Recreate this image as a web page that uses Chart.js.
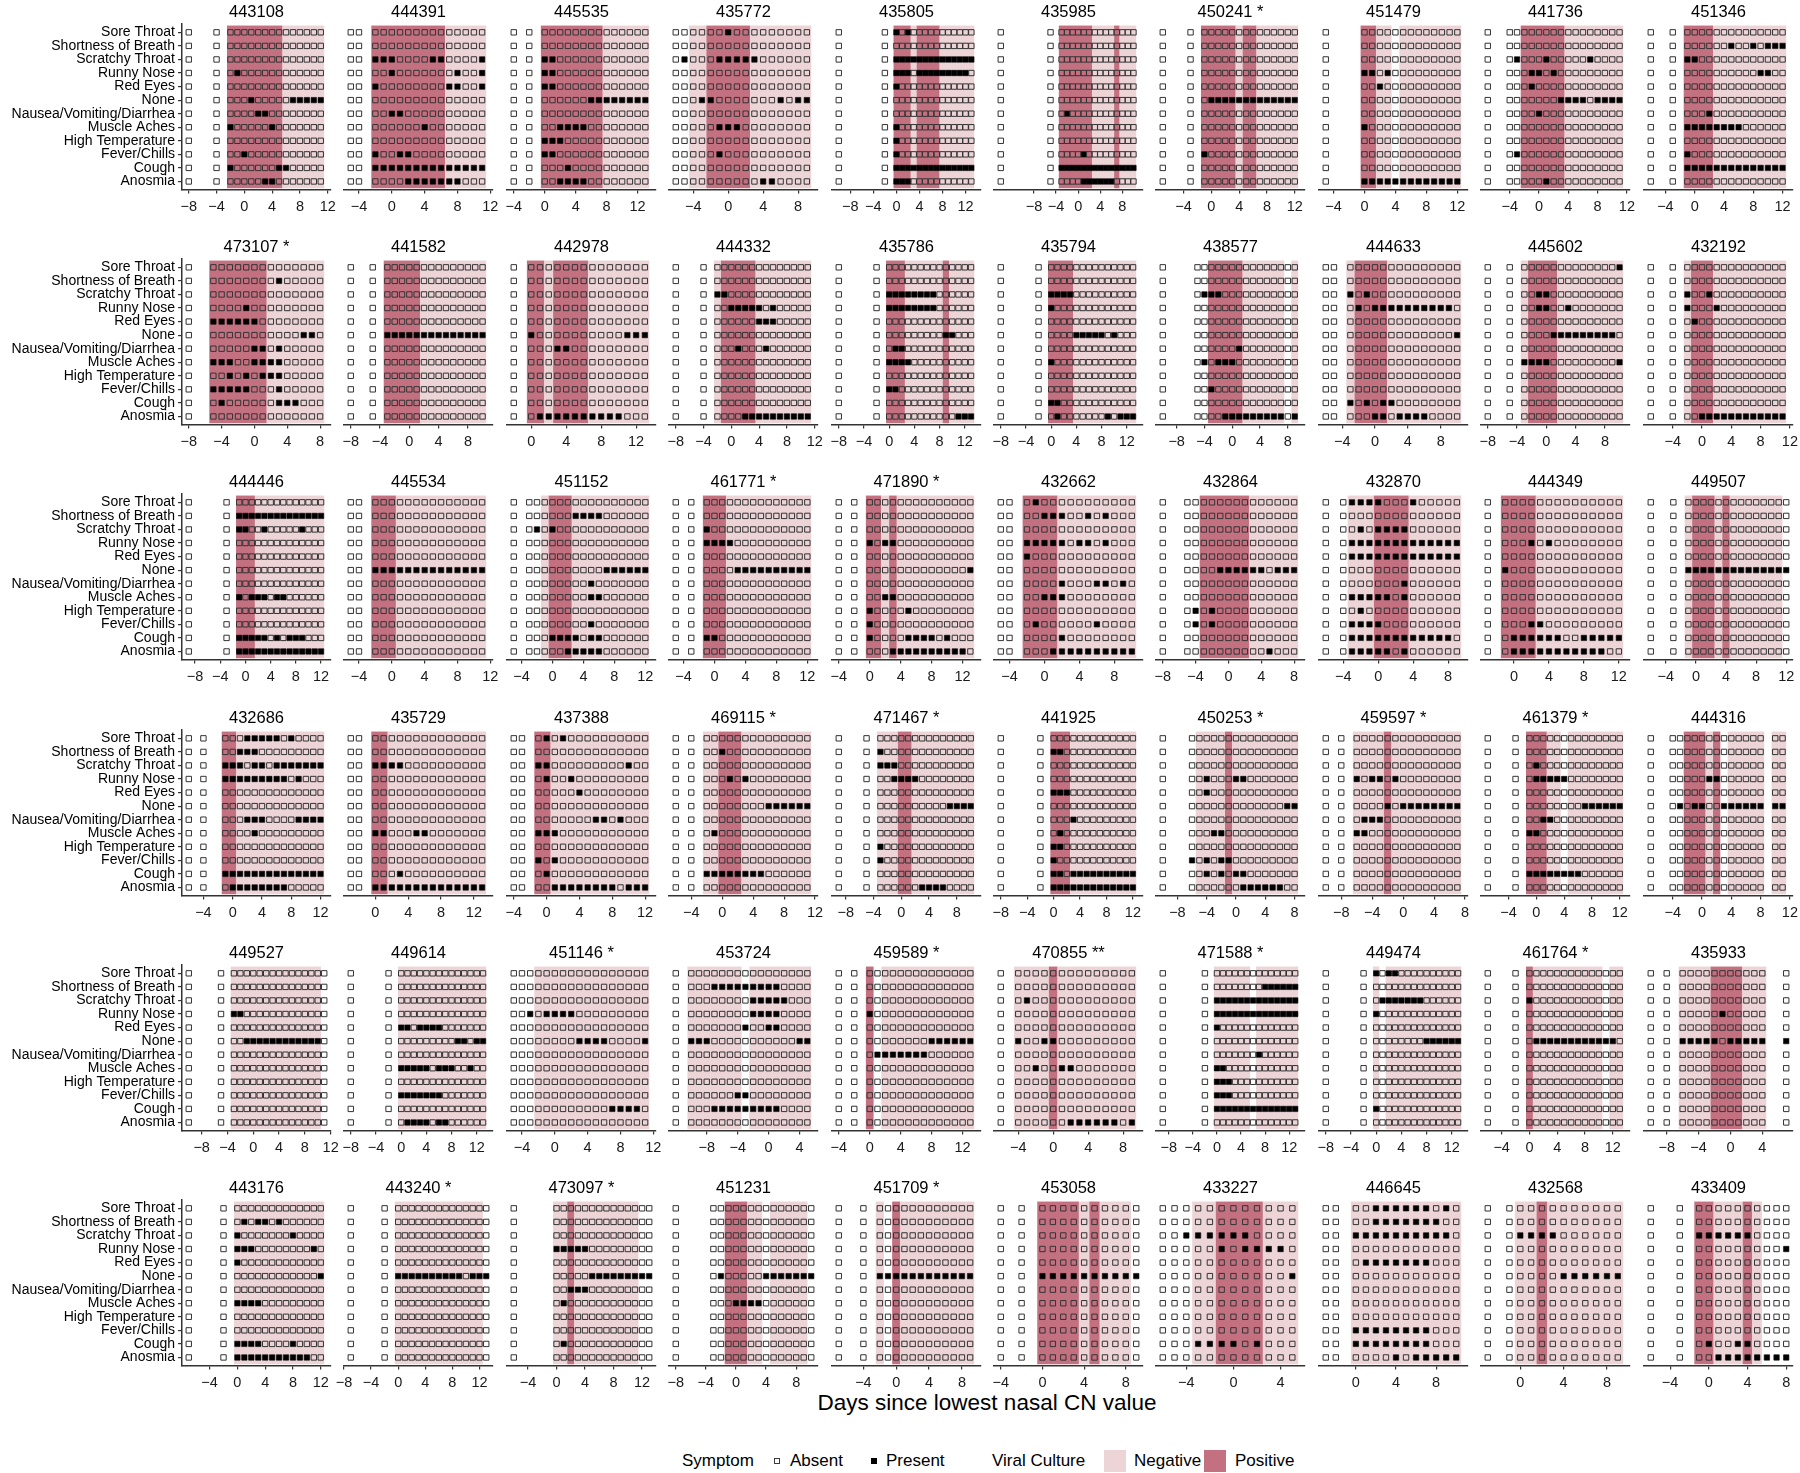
<!DOCTYPE html>
<html>
<head>
<meta charset="utf-8">
<script src="https://cdn.jsdelivr.net/npm/chart.js@4.4.0/dist/chart.umd.min.js"></script>
<style>
  body { margin: 0; width: 1800px; height: 1473px; background: #fff; position: relative; overflow: hidden;
         font-family: "Liberation Sans", Arial, Helvetica, sans-serif; color: #000; }
  canvas { position: absolute; }
  .txt { position: absolute; white-space: nowrap; }
  #xtitle { left: 587px; width: 800px; top: 1389px; text-align: center; font-size: 22.5px; line-height: 28px; }
  .leg { top: 1450px; font-size: 17px; line-height: 22px; }
  .key { position: absolute; box-sizing: border-box; }
</style>
</head>
<body>
<div class="txt" id="xtitle">Days since lowest nasal CN value</div>
<div class="txt leg" style="left:682px">Symptom</div>
<div class="key" style="left:774px;top:1458px;width:6px;height:6px;border:1px solid #3d3d3d"></div>
<div class="txt leg" style="left:790px">Absent</div>
<div class="key" style="left:871px;top:1458px;width:6px;height:6px;background:#000"></div>
<div class="txt leg" style="left:886px">Present</div>
<div class="txt leg" style="left:992px">Viral Culture</div>
<div class="key" id="negKey" style="left:1104px;top:1450px;width:22px;height:22px"></div>
<div class="txt leg" style="left:1134px">Negative</div>
<div class="key" id="posKey" style="left:1204px;top:1450px;width:22px;height:22px"></div>
<div class="txt leg" style="left:1235px">Positive</div>

<script>
// symptom rows, top to bottom
const symptoms = ['Sore Throat', 'Shortness of Breath', 'Scratchy Throat', 'Runny Nose', 'Red Eyes', 'None',
  'Nausea/Vomiting/Diarrhea', 'Muscle Aches', 'High Temperature', 'Fever/Chills', 'Cough', 'Anosmia'];

const xBreaks = [-8, -4, 0, 4, 8, 12];

const panelIds = [
  '443108', '444391', '445535', '435772', '435805', '435985', '450241 *', '451479', '441736', '451346',
  '473107 *', '441582', '442978', '444332', '435786', '435794', '438577', '444633', '445602', '432192',
  '444446', '445534', '451152', '461771 *', '471890 *', '432662', '432864', '432870', '444349', '449507',
  '432686', '435729', '437388', '469115 *', '471467 *', '441925', '450253 *', '459597 *', '461379 *', '444316',
  '449527', '449614', '451146 *', '453724', '459589 *', '470855 **', '471588 *', '449474', '461764 *', '435933',
  '443176', '443240 *', '473097 *', '451231', '451709 *', '453058', '433227', '446645', '432568', '433409'
];

// day of the first character of each culture string
const firstDay = [
  -8, -5, -4, -6, -10, -14, -7, -5, -7, -6,
  -8, -8, -2, -8, -8, -8, -10, -6, -8, -7,
  -9, -5, -5, -5, -4, -5, -8, -6, -3, -6,
  -6, -3, -4, -6, -9, -8, -10, -10, -7, -7,
  -10, -8, -5, -12, -4, -6, -9, -8, -6, -10,
  -7, -7, -6, -8, -7, -4, -6, -3, -3, -6
];

// one char per day: ' ' no visit, 'o' visit without culture, 'n' culture negative, 'p' culture positive
const culture = [
  'o   o ppppppppnnnnnn', 'oo pppppppppnnnnn', 'o o ppppppppnnnnnn', 'oonnpppppnnnnnnn', 'o       o pppnppppnnnnnn',
  'o        o ppppppnnnnpnnn', 'o   o pppppnppnnnnnn', 'o    ppnnonnnnnnnn', 'o  ooppppppnnnnnnnn', 'o  o ppppnnnnnnnnnn',
  'o  pppppppnnnnnnn', 'o  o pppppnnnnnnnnn', 'o ppnppppnnnnnnn', 'o   o npppppnnnnnnnn', 'o     o pppnnnnnnpnnnn',
  'o     o ppppnnnnnnnnnn', 'o    oopppppnnnnnnon', 'oo nppppnnnnnnnnn', 'o  o nppppnnnnnnnnn', 'o  o npppnnnnnnnnnn',
  'o     o pppnnnnnnnnnnn', 'oo pppnnnnnnnnnnn', 'o oonpppnnnnnnnnnn', 'o o pppnnnnnnnnnnn', 'o o ppnpnnnnnnnnnn',
  'oo ppppnnnnnnnnn', 'o  ooppppppnnnnnn', 'o onnnppppnnnnnn', 'o ppppnnnnnnnnnn', 'o  o npppnpnnnnnnno',
  'o o  ppnnnnnnnnnnnn', 'oo ppnnnnnnnnnnnn', 'oo ppnnnnnnnnnnnn', 'o o nnpppnnnnnnnnn', 'o   o nnnppnnnnnnnnn',
  'o     o pppnnnnnnnnnn', 'o   onnnnpnnnnnnnnn', 'o o nnnnpnnnnnnnnn', 'o   o pppnnonnnnnnnn', 'o  oopppnponnnnn nn',
  'o    o nnnnnnnnnnnnnno', 'o     o nnnnnnnnnnnnnn', 'ooonnnnnnnnnnnnnn', 'o nnnnnnnonnnnnnnn', 'o o ponnnnnnnnnnnn',
  'o nnnnpnnnnnnnnn', 'o      o nnnnnnonnnnnnn', 'o     o nonnnnnnnnnnnn', 'o   o pnnnnnnnnnnonn', 'o o nnnnppppnnn  o',
  'o    o nnnnnnnnnnnnn', 'o    o nnnnnnnnnnnnno', 'o     nnpnnnnnnnnnoo', 'o    oopppnnonnnnno', 'o  o nopnnnnnnnnn',
  'o o ppppnpnnno', 'ooonnppppnnn', 'oo nnnnnnnnnnn', 'o onnpnnnnnnn', 'o  o ppnnnpnooo'
];

// days with the symptom present, one list per symptom row
const present = [
  [[], [], [], [-1], [], [1, 7, 8, 9, 10, 11], [2, 3], [-2, 4], [], [0], [-2, 5, 6], [3, 4]],
  [[], [], [-2, -1, 0, 5, 6, 11], [0, 8, 11], [-2, 7, 8, 11], [], [0, 1], [4], [], [-2, 1, 2], [-2, -1, 0, 1, 2, 3, 4, 5, 6, 7, 8, 9, 10, 11], [2, 3, 4, 5, 6, 7, 8]],
  [[], [], [0, 1], [0, 1], [0, 1], [6, 7, 8, 9, 10, 11, 12, 13], [], [2, 3, 4, 5], [0, 1, 2], [0, 1], [3], [2, 3, 4, 5]],
  [[0], [], [-5, -1, 0, 1, 2, 3], [], [], [-3, -2, 6, 8, 9], [], [-1, 0, 1], [], [-1], [], [4, 5]],
  [[0, 2], [], [0, 1, 2, 3, 4, 5, 6, 7, 8, 9, 10, 11, 12, 13], [0, 1, 2, 4, 5, 6, 7, 8, 9, 10, 11, 12], [0], [], [], [0], [0], [0], [0, 1, 2, 3, 4, 5, 6, 7, 8, 9, 10, 11, 12, 13], [0, 1, 2]],
  [[], [], [], [], [], [], [-2], [], [], [1], [-3, -2, -1, 0, 1, 2, 3, 4, 5, 6, 7, 8, 9, 10], [1, 2, 3, 4, 5, 6]],
  [[], [], [], [], [], [0, 1, 2, 3, 4, 5, 6, 7, 8, 9, 10, 11, 12], [], [], [], [-1], [], []],
  [[], [], [], [0, 1, 3], [2], [], [], [0], [], [], [], [0, 1, 2, 3, 4, 5, 6, 7, 8, 9, 10, 11, 12]],
  [[], [], [-3, 1, 7], [-1, 0, 2], [-1], [3, 4, 5, 6, 8, 9, 10, 11], [0], [], [], [-3], [], [1]],
  [[], [5, 8, 10, 11, 12], [-1, 0], [9, 10], [], [], [2], [-1, 0, 1, 2, 3, 4, 5, 6], [], [-1], [-1, 0, 1, 2, 3, 4, 5, 6, 7, 8, 9, 10, 11, 12], []],

  [[], [3], [], [-1], [-5, -4, -3, -2, -1, 0], [6, 7], [0, 1, 3], [-5, -4, -3, 0, 1, 2, 3], [-3, -1, 1, 2, 3], [-5, -4, -3, -2, -1, 3], [-4, 3, 4, 5], []],
  [[], [], [], [], [], [-3, -2, -1, 0, 1, 2, 3, 4, 5, 6, 7, 8, 9, 10], [], [], [], [], [], []],
  [[], [], [], [], [], [0, 11, 12, 13], [3, 4], [], [], [], [], [1, 2, 3, 4, 5, 6, 7, 8, 9, 10]],
  [[], [], [-2, -1], [0, 1, 2, 3, 4, 6], [4, 5, 6], [], [1, 5], [], [], [], [], [2, 3, 4, 5, 6, 7, 8, 9, 10, 11]],
  [[], [], [0, 1, 2, 3, 4, 5, 6, 7], [0, 1, 2, 3, 4, 5, 6, 7], [], [9, 10], [1, 2], [0, 1, 2, 3], [], [0, 1], [], [11, 12, 13]],
  [[], [], [0, 1, 2, 3], [0], [], [4, 5, 6, 7, 8, 10], [], [0], [], [], [0, 1], [1, 9, 11, 12, 13]],
  [[], [], [-4, -3, -2], [], [], [], [1], [-4, -2, -1, 0], [], [-3], [], [-1, 0, 1, 2, 3, 4, 5, 6, 7, 9]],
  [[], [], [-3, -1], [-2, 0, 1, 2, 3, 4, 5, 6, 7, 8, 9], [], [10], [], [], [], [], [-3, -1, 1, 2], [0, 1, 3, 4, 5, 6]],
  [[10], [], [-1, 0], [-1, 0, 3], [], [1, 2, 3, 4, 5, 6, 7, 8, 9], [], [-3, -2, -1, 0, 10], [], [], [], []],
  [[], [], [-2, 1], [-2, 2], [-1], [], [], [], [], [], [], [0, 1, 2, 3, 4, 5, 6, 7, 8, 9, 10, 11]],

  [[], [-1, 0, 1, 2, 3, 4, 5, 6, 7, 8, 9, 10, 11, 12], [-1, 0, 3, 9], [], [], [], [], [-1, 1, 2, 3, 5, 6], [], [], [-1, 0, 1, 2, 3, 5, 7, 8, 9], [-1, 0, 1, 2, 3, 4, 5, 6, 7, 8, 9, 10, 11, 12]],
  [[], [], [], [], [], [-2, -1, 0, 1, 2, 3, 4, 5, 6, 7, 8, 9, 10, 11], [], [], [], [], [], []],
  [[], [3, 4, 5, 6], [-2, 0], [], [], [7, 8, 9, 10, 11, 12], [5], [5, 6], [], [5], [0, 1, 2, 3, 5, 6], [2, 3, 4, 5, 6]],
  [[], [], [-1], [-1, 0, 1, 2], [], [3, 4, 5, 6, 7, 8, 9, 10, 11, 12], [], [], [], [], [-1, 0], []],
  [[], [], [], [0, 2, 3], [], [13], [], [2, 3], [0, 5], [0], [0, 5, 6, 7, 8, 10], [3, 4, 5, 6, 7, 8, 9, 10, 11, 12]],
  [[-1], [0, 1, 2, 5, 7], [], [-2, -1, 0, 1, 2, 4, 5, 7], [-2], [], [2, 6, 7, 9], [0, 1, 2], [], [-1, 6], [2], [1, 2, 3, 4, 5, 6, 7, 8, 9, 10]],
  [[], [], [], [], [], [-1, 0, 1, 2, 3, 4, 6, 7, 8], [], [], [-4, -2], [-4, -2], [], [5]],
  [[-3, -2, -1, 0, 4], [], [-2, 0, 1, 2, 3], [-3, -2, -1, 0, 1, 2, 3, 4, 5, 6, 7, 8, 9], [-3, -2, -1, 0, 1, 2, 3, 4, 5, 6, 7, 8, 9], [], [3], [-3, -2, -1, 0, 1, 3], [-2], [-3, -2, -1, 0], [-3, -2, -1, 0, 1, 2, 3, 4, 5, 6, 7, 8], [-3, -2, -1, 0, 1, 3]],
  [[], [], [], [2, 4], [], [-1], [], [], [], [2, 3], [0, 1, 2, 3, 4, 5, 8, 9, 10, 11, 12], [0, 1, 2, 3, 4, 5, 6, 7, 8, 9, 10]],
  [[], [], [], [], [], [-1, 0, 1, 2, 3, 4, 5, 6, 7, 8, 9, 10, 11, 12], [], [], [], [], [], []],

  [[2, 3, 4, 5, 6, 8], [1, 2, 3], [-1, 0, 1, 3, 4, 6, 7, 8, 9, 10, 11, 12], [-1, 0, 1, 2, 3, 4, 5, 6, 7, 9], [], [], [2, 3, 4, 9, 10, 11, 12], [3], [], [], [-1, 0, 1, 2, 3, 4, 5, 6, 7, 8, 9, 10, 11, 12], [0, 1, 2, 3, 4, 5, 6, 7]],
  [[], [], [0, 1, 2, 3], [], [], [], [], [0, 1, 5, 6], [], [], [3], [0, 1, 2, 3, 4, 5, 6, 7, 8, 9, 10, 11, 12, 13]],
  [[0, 2], [], [-1, 0, 10], [0, 3], [4], [], [6, 7, 9], [-1, 0, 1], [], [-1, 1], [0], [1, 2, 3, 4, 5, 6, 7, 8, 10, 11, 12]],
  [[], [0], [], [1, 3], [], [6, 7, 8, 9, 10, 11], [], [-1], [], [], [-2, -1, 0, 1, 2, 3, 4, 5], []],
  [[], [-3], [-3, -2, -1], [-1, 0, 1, 2], [], [7, 8, 9, 10], [], [], [-3], [-3], [], [3, 4, 5, 6]],
  [[], [0, 1], [], [], [0, 1, 2], [], [3], [1], [0, 1], [0], [0, 1, 3, 4, 5, 6, 7, 8, 9, 10, 11, 12], [0, 1, 2, 3, 4, 5, 6, 7, 8, 9, 10, 11, 12]],
  [[], [], [], [-4, 0, 1], [-4], [7, 8], [], [-3, -2], [], [-6, -4, -2, -1], [-4, -2, 0, 1], [1, 2, 3, 4, 5, 6]],
  [[], [], [], [-6, -4, -3, -1], [], [-2, 0, 1, 2, 3, 4, 5, 6, 7], [-5, -4, -3], [-6, -5], [], [], [], []],
  [[], [], [0], [0, 1, 2, 3, 4], [], [7, 8, 9, 10, 11, 12], [1, 2], [-1, 0], [], [], [-1, 0, 1, 2, 3, 4, 5, 6], []],
  [[], [], [], [1, 2], [], [-3, -1, 0, 3, 4, 5, 6, 7, 8, 10, 11], [], [], [], [], [], []],

  [[], [], [], [-3, -2], [], [-1, 0, 1, 2, 3, 4, 5, 6, 7, 8, 9, 10], [], [], [], [], [], []],
  [[], [], [], [], [0, 1, 3, 4, 5, 6], [9, 10, 12, 13], [], [0, 1, 2, 3, 4, 6, 7, 8, 11], [], [0, 1, 2, 3, 4, 5, 6], [], [1, 2, 3, 4, 6, 7]],
  [[], [], [], [-3, -1, 0, 1, 2], [], [3, 4, 5, 6, 11], [], [], [], [], [7, 8, 9, 10], []],
  [[], [-7, -6, -5, -4, -3, -2, -1, 0, 1], [-2, -1, 0, 1, 2], [-2, -1, 0, 1], [-3, 0, 1], [-10, -9, -8, 4, 5], [], [], [], [-4, -3], [-7, -6, -5, -4, -3, -2, -1, 0, 1], []],
  [[], [], [], [0], [], [8, 9, 10, 11, 12, 13], [1, 2, 3, 4, 5, 6, 7], [], [], [], [], []],
  [[], [], [-3], [], [], [-4, -1, 0], [], [-2, 1, 2], [], [], [], [2, 3, 4, 5, 6, 7, 9]],
  [[], [8, 9, 10, 11, 12, 13], [0, 1, 2, 3, 4, 5, 6, 7, 8, 9, 10, 11, 12, 13], [0, 1, 2, 3, 4, 5, 6, 7, 8, 9, 10, 11, 12, 13], [0], [], [7], [0, 1], [0, 1, 2], [0, 1, 2], [0, 1, 2, 3, 4, 5, 6, 7, 8, 9, 10, 11, 12, 13], []],
  [[0, 2, 3], [], [1, 2, 3, 4, 5, 6, 7], [0], [], [8, 9, 10, 11, 12, 13], [], [], [], [], [0], []],
  [[], [], [0], [], [], [1, 2, 3, 4, 5, 6, 7, 8, 9, 10, 11, 12], [], [], [], [], [], []],
  [[], [], [], [-1], [], [-6, -5, -4, -3, -2, 0, 1, 2, 3, 4, 7], [], [], [], [], [], []],

  [[], [1, 3, 4, 6], [0, 8], [0, 1, 2, 11], [0], [12], [], [0, 1, 2, 3], [], [], [0, 1, 2, 3, 8], [0, 1, 2, 3, 4, 5, 6, 7, 8, 9, 10]],
  [[], [], [], [], [], [0, 1, 2, 3, 4, 5, 6, 7, 8, 9, 11, 12, 13], [], [], [], [], [], []],
  [[], [], [], [0, 1, 2, 3, 4], [], [5, 6, 7, 8, 9, 10, 11, 12, 13], [2, 3, 4], [1], [], [], [1], []],
  [[], [], [], [], [], [-2, 4, 5, 6, 7, 8, 9, 10], [], [0, 1, 2, 3], [], [], [], []],
  [[], [], [], [], [], [-2, -1, 0, 1, 2, 3, 4, 5, 6, 7, 8, 9], [], [], [], [], [], []],
  [[], [], [], [], [], [0, 1, 2, 3, 4, 5, 6, 7, 8, 9], [], [], [], [], [], []],
  [[], [], [-4, -3, -2, -1, 0, 1], [-1, 1, 2, 3, 4], [], [5], [], [], [], [], [-3, -2, -1, 0, 2], []],
  [[2, 3, 4, 5, 6, 7, 9], [2, 3, 4, 5, 6, 7, 8], [0, 1, 2, 3, 4, 5, 6, 7, 8, 9], [], [1, 2, 3, 4, 5, 6, 7], [], [], [], [], [0, 1, 2, 3, 4, 5, 6, 7], [0, 1, 2, 3, 4, 5, 6, 7], [4, 6, 7, 8, 9, 10]],
  [[], [], [0, 1, 2, 3], [], [], [4, 5, 6, 7, 8, 9], [], [], [], [], [], []],
  [[], [], [-1, 0, 1, 2, 3, 4], [8], [], [], [], [], [], [], [0, 3, 4], [1, 2, 3, 4, 5, 6, 7, 8]]
];

const negColor = '#ecd4d7';
const posColor = '#c37181';
const FONT = '"Liberation Sans", Arial, Helvetica, sans-serif';

// panel grid geometry (px)
const COLS = 10;
const PLOT_LEFT = 182, COL_STEP = 162.4, PLOT_W = 149;
const ROW_STEP = 235.2, TITLE_H = 24.2, PLOT_H = 165.4, CANVAS_H = 226, SIDE = 18;

document.getElementById('negKey').style.background = negColor;
document.getElementById('posKey').style.background = posColor;

function visitDays(i) {
  const out = [];
  for (let k = 0; k < culture[i].length; k++) {
    const c = culture[i][k];
    if (c !== ' ') out.push({ day: firstDay[i] + k, kind: c });
  }
  return out;
}

// ggplot-like limits: data range (tiles are one day wide) plus 5% on each side
function xLimits(days) {
  let lo = Infinity, hi = -Infinity;
  days.forEach(d => {
    const w = d.kind === 'o' ? 0 : 0.5;
    lo = Math.min(lo, d.day - w);
    hi = Math.max(hi, d.day + w);
  });
  const pad = (hi - lo) * 0.05;
  return [lo - pad, hi + pad];
}

function cultureShading(days) {
  return {
    id: 'cultureShading',
    beforeDatasetsDraw(chart) {
      const { ctx, scales: { x, y } } = chart;
      const top = y.getPixelForValue(12.5);
      const bottom = y.getPixelForValue(0.5);
      ctx.save();
      let k = 0;
      while (k < days.length) {
        const kind = days[k].kind;
        let j = k;
        while (j + 1 < days.length && days[j + 1].kind === kind && days[j + 1].day === days[j].day + 1) j++;
        if (kind === 'n' || kind === 'p') {
          const l = x.getPixelForValue(days[k].day - 0.5);
          const r = x.getPixelForValue(days[j].day + 0.5);
          ctx.fillStyle = kind === 'p' ? posColor : negColor;
          ctx.fillRect(l, top, r - l, bottom - top);
        }
        k = j + 1;
      }
      ctx.restore();
    }
  };
}

function fmtTick(v) {
  return v < 0 ? '\u2212' + (-v) : String(v);
}

function drawPanel(id, i) {
  const row = Math.floor(i / COLS);
  const col = i % COLS;
  const first = col === 0;
  const days = visitDays(i);
  const [xmin, xmax] = xLimits(days);

  const absent = [];
  const pres = [];
  days.forEach(d => {
    symptoms.forEach((s, si) => {
      const pt = { x: d.day, y: 12 - si };
      if (present[i][si].includes(d.day)) pres.push(pt);
      else absent.push(pt);
    });
  });

  const plotLeft = Math.round(PLOT_LEFT + col * COL_STEP);
  const left = first ? 0 : plotLeft - SIDE;
  const width = first ? plotLeft + PLOT_W + SIDE : PLOT_W + 2 * SIDE;
  const canvas = document.createElement('canvas');
  canvas.width = width;
  canvas.height = CANVAS_H;
  canvas.style.left = left + 'px';
  canvas.style.top = Math.round(row * ROW_STEP) + 'px';
  canvas.style.width = width + 'px';
  canvas.style.height = CANVAS_H + 'px';
  document.body.appendChild(canvas);

  new Chart(canvas, {
    type: 'scatter',
    data: {
      datasets: [
        { data: absent, pointStyle: 'rect', pointRadius: 3.8, backgroundColor: 'rgba(0,0,0,0)',
          borderColor: '#333', borderWidth: 1 },
        { data: pres, pointStyle: 'rect', pointRadius: 3.8, backgroundColor: '#000',
          borderColor: '#000', borderWidth: 0.6 }
      ]
    },
    options: {
      responsive: false,
      animation: false,
      events: [],
      layout: { padding: { left: first ? 0 : SIDE, right: SIDE, top: 0, bottom: 0 } },
      plugins: {
        legend: { display: false },
        tooltip: { enabled: false },
        title: {
          display: true, text: id, fullSize: false, color: '#000',
          font: { family: FONT, size: 16.5, weight: 'normal', lineHeight: 1.2 },
          padding: { top: 2.2, bottom: TITLE_H - 16.5 * 1.2 - 2.2 }
        }
      },
      scales: {
        x: {
          type: 'linear', min: xmin, max: xmax,
          afterBuildTicks: s => { s.ticks = xBreaks.filter(v => v >= xmin && v <= xmax).map(v => ({ value: v })); },
          afterFit: s => { s.height = CANVAS_H - TITLE_H - PLOT_H; },
          ticks: { callback: fmtTick, font: { family: FONT, size: 14.5 }, color: '#1a1a1a', padding: 5,
                   maxRotation: 0, autoSkip: false },
          grid: { drawOnChartArea: false, drawTicks: true, tickLength: 4, color: '#333', lineWidth: 1.2 },
          border: { display: true, color: '#333', width: 1.5 }
        },
        y: {
          type: 'linear', min: 0.4, max: 12.6,
          afterBuildTicks: s => { s.ticks = symptoms.map((_, k) => ({ value: 12 - k })); },
          afterFit: s => { s.width = first ? PLOT_LEFT : 0; },
          ticks: { display: first, callback: v => symptoms[12 - v], font: { family: FONT, size: 14 }, color: '#000',
                   padding: 3, autoSkip: false },
          grid: { display: first, drawOnChartArea: false, drawTicks: first, tickLength: 4, color: '#333', lineWidth: 1.2 },
          border: { display: first, color: '#333', width: 1.5 }
        }
      }
    },
    plugins: [cultureShading(days)]
  });
}

panelIds.forEach((id, i) => drawPanel(id, i));
</script>
</body>
</html>
